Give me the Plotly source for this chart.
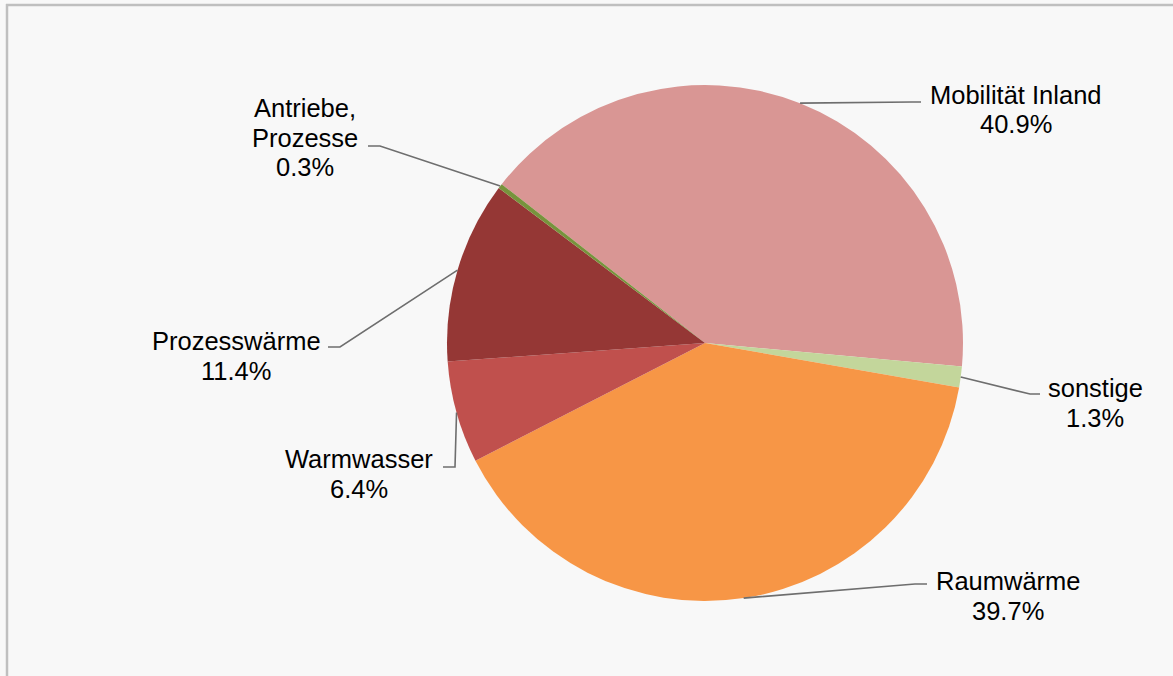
import math
import plotly.graph_objects as go

# ---- data ----
categories = ["Mobilität Inland", "sonstige", "Raumwärme", "Warmwasser", "Prozesswärme", "Antriebe, Prozesse"]
label_lines = [["Mobilität Inland"], ["sonstige"], ["Raumwärme"], ["Warmwasser"], ["Prozesswärme"], ["Antriebe,", "Prozesse"]]
shares = [40.9, 1.3, 39.7, 6.4, 11.4, 0.3]
colors = ["#D99694", "#C3D69B", "#F79646", "#C0504D", "#953735", "#77933C"]

# ---- geometry / style ----
W, H = 1173, 676
CX, CY, R = 705, 343, 258
ROTATION = 308.0
FONT = "Liberation Sans, Arial, sans-serif"
FSIZE = 25.5
LINE_GAP = 29.5

# label styling: text block center x, first line y, leader elbow, leader end (pixels)
label_style = {
    "Mobilität Inland": dict(cx=1016, y0=95, elbow=(912, 102), end=(921, 102)),
    "sonstige": dict(cx=1095, y0=388, elbow=(1030, 394), end=(1040, 394)),
    "Raumwärme": dict(cx=1008, y0=581, elbow=(915, 584), end=(927, 584)),
    "Warmwasser": dict(cx=359, y0=459, elbow=(455, 467), end=(443, 467)),
    "Prozesswärme": dict(cx=236, y0=341, elbow=(340, 347), end=(328, 347)),
    "Antriebe, Prozesse": dict(cx=305, y0=108, elbow=(380, 146), end=(368, 146)),
}


def px(x):
    return x / W


def py(y):
    return 1 - y / H


fig = go.Figure()
fig.add_trace(go.Pie(
    labels=categories,
    values=shares,
    sort=False,
    direction="clockwise",
    rotation=ROTATION,
    marker=dict(colors=colors, line=dict(width=0)),
    textinfo="none",
    hoverinfo="label+percent",
    showlegend=False,
    domain=dict(x=[px(CX - R), px(CX + R)], y=[py(CY + R), py(CY - R)]),
))

shapes = []
annotations = []
total = sum(shares)
angle = ROTATION
for cat, lines, v in zip(categories, label_lines, shares):
    span = v / total * 360.0
    mid = math.radians(angle + span / 2)
    angle += span
    ex = CX + R * math.sin(mid)
    ey = CY - R * math.cos(mid)
    st = label_style[cat]
    (bx, by), (qx, qy) = st["elbow"], st["end"]
    path = f"M {px(ex)} {py(ey)} L {px(bx)} {py(by)} L {px(qx)} {py(qy)}"
    shapes.append(dict(type="path", xref="paper", yref="paper", path=path,
                       line=dict(color="#6E6E6E", width=1.6)))
    texts = lines + [f"{v:.1f}%"]
    for i, t in enumerate(texts):
        annotations.append(dict(
            x=px(st["cx"]), y=py(st["y0"] + i * LINE_GAP), xref="paper", yref="paper",
            text=t, showarrow=False, xanchor="center", yanchor="middle",
            font=dict(family=FONT, size=FSIZE, color="#000000"),
        ))

# chart-area border (only top and left edges are inside the view)
shapes.append(dict(type="line", xref="paper", yref="paper",
                   x0=px(6), y0=py(5), x1=px(W), y1=py(5),
                   line=dict(color="#BFBFBF", width=2.5), layer="below"))
shapes.append(dict(type="line", xref="paper", yref="paper",
                   x0=px(7), y0=py(4), x1=px(7), y1=py(H),
                   line=dict(color="#BFBFBF", width=2.5), layer="below"))

fig.update_layout(
    width=W, height=H,
    margin=dict(l=0, r=0, t=0, b=0),
    paper_bgcolor="#F8F8F8",
    plot_bgcolor="#F8F8F8",
    shapes=shapes,
    annotations=annotations,
    font=dict(family=FONT, size=FSIZE, color="#000000"),
)

fig.write_html(
    "out.html",
    config={"displayModeBar": False},
    post_script="document.body.style.margin='0';document.body.style.overflow='hidden';",
)
